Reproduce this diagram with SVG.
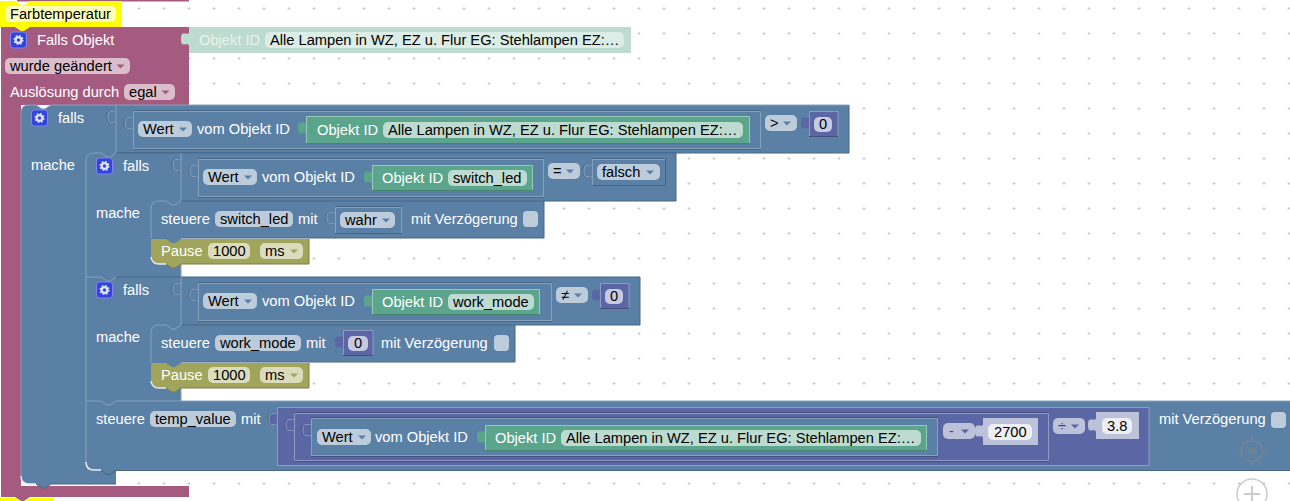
<svg xmlns="http://www.w3.org/2000/svg" width="1290" height="501" viewBox="0 0 1290 501">
<style>
text{font-family:"Liberation Sans",Arial,sans-serif;font-size:14.67px}
.w{fill:#fff}
.k{fill:#000}
.blue{fill:#5b80a5}
.pink{fill:#a55b80}
.grn{fill:#5ba58c}
.oli{fill:#a0a55b}
.pur{fill:#5b67a5}
.hl,.sd,.hw,.gl,.gd,.vl,.vd{fill:none;stroke-width:1}
.hl{stroke:#86a1bc}
.sd{stroke:#486684}
.hw{stroke:#e4ebf2;stroke-width:1.5}
.gl{stroke:#98c8b6}
.gd{stroke:#48846f}
.vl{stroke:#9298c6}
.vd{stroke:#474f80}
.fb{fill:#bdccdb}
.fp{fill:#dbbdcc}
.fg{fill:#bddbd1}
.fo{fill:#dbdbbd}
.fv{fill:#bdc2db}
.fe{fill:#eeeef4}
</style>
<defs>
<pattern id="grid" x="0" y="0" width="25" height="25" patternUnits="userSpaceOnUse">
<path d="M12.5,8.5H15.5M14,7V10" stroke="#ccc" stroke-width="1" fill="none"/>
</pattern>
<path id="tab" d="M0,0C0,2.500 -2,1.500 -5,1.500C-7.500,1.500 -8,3.500 -8,7C-8,10.500 -7.500,12.500 -5,12.500C-2,12.500 0,11.500 0,15z"/>
<path id="tabl" d="M0,0C0,2.500 -2,1.500 -5,1.500C-7.500,1.500 -8,3.500 -8,7C-8,10.500 -7.500,12.500 -5,12.500C-2,12.500 0,11.500 0,15" fill="none"/>
<g id="tabb">
<use href="#tabl" x="-1" y="0" stroke="#486684"/>
<use href="#tabl" stroke="#86a1bc"/>
</g>
<g id="tabv">
<use href="#tabl" x="-1" y="0" stroke="#474f80"/>
<use href="#tabl" stroke="#9298c6"/>
</g>
<path id="arr" d="M0,0H8L4,4z"/>
<g id="gear">
<rect x="0.5" y="0.5" width="16" height="16" rx="3" fill="#3344dd" stroke="#7f86ee"/>
<circle cx="8.5" cy="8.5" r="2.8" fill="none" stroke="#dfe3fa" stroke-width="2.2"/>
<circle cx="8.5" cy="8.5" r="4.4" fill="none" stroke="#dfe3fa" stroke-width="1.3" stroke-dasharray="1.8 1.65"/>
</g>
</defs>
<rect width="1290" height="501" fill="#fff"/>
<rect width="1290" height="501" fill="url(#grid)"/>

<g id="hat-top"><rect x="17" y="0" width="172" height="1.5" class="pink"/></g>

<g id="trigger">
<path class="pink" d="M1,27H189V105H21V486H189V497H30l-6,4h-3l-6,-4H1Z"/>
<use href="#gear" x="10" y="31.500"/>
<text class="w" x="37" y="45">Falls Objekt</text>
<rect class="fp" x="5" y="58" width="125" height="16" rx="5"/>
<text class="k" x="10" y="71">wurde geändert</text>
<use href="#arr" x="116.500" y="64.500" fill="#a55b80"/>
<text class="w" x="10" y="97">Auslösung durch</text>
<rect class="fp" x="124" y="84" width="51" height="16" rx="5"/>
<text class="k" x="129" y="97">egal</text>
<use href="#arr" x="161.500" y="90.500" fill="#a55b80"/>
</g>

<g id="comment">
<path d="M0,1H15l6,4h3l6,-4H122V27H30l-6,4h-3l-6,-4H0Z" fill="#ffff00"/>
<rect x="5" y="6" width="111" height="16" rx="5" fill="#ffffb8"/>
<text class="k" x="10" y="19">Farbtemperatur</text>
</g>
<g id="comment-bottom"><path d="M0,498H15l6,3h3l6,-3H53V501H0Z" fill="#ffff00"/></g>

<g id="object-id-top">
<use href="#tab" x="189" y="32" fill="#bddbd1"/>
<rect x="189" y="27" width="442" height="26" fill="#bddbd1"/>
<text x="199" y="45" fill="#e9f3ef">Objekt ID</text>
<rect x="265" y="32" width="359" height="16" rx="5" fill="#dcece6"/>
<text class="k" x="270" y="45">Alle Lampen in WZ, EZ u. Flur EG: Stehlampen EZ:…</text>
</g>

<g id="if-outer">
<path class="blue" d="M21,113Q21,105 29,105H36l6,4h3l6,-4H849V153H116V484H51l-6,4h-3l-6,-4H29Q21,484 21,476Z"/>
<path class="sd" d="M849,105V153H116M116,484H51l-6,4h-3l-6,-4"/>
<path class="hl" d="M21,476V113Q21,105 29,105H36l6,4h3l6,-4H849"/>
<path class="hw" d="M21,476Q21,484 29,484H36"/>
<use href="#gear" x="31" y="109.500"/>
<text class="w" x="58" y="123">falls</text>
<text class="w" x="31" y="170">mache</text>
<path class="hl" d="M116,105V153"/>
<use href="#tabb" x="116" y="110"/>
<g id="value-1">
<use href="#tabb" x="133" y="116"/>
<path class="sd" d="M133,110.500H761M133,149.500H761"/>
<path class="hl" d="M133.500,148.500V111.500H760.500V148.500H133.500"/>
<rect class="fb" x="138" y="121" width="54" height="16" rx="5"/>
<text class="k" x="143" y="134">Wert</text>
<use href="#arr" x="179" y="127.500" fill="#5b80a5"/>
<text class="w" x="197" y="134">vom Objekt ID</text>
<use href="#tab" x="306" y="121" class="grn"/>
<rect class="grn" x="306" y="116" width="444" height="28"/>
<path class="gl" d="M306.500,143V116.500H749.500V143"/>
<path class="gd" d="M306,143.500H750"/>
<text class="w" x="317" y="135">Objekt ID</text>
<rect class="fg" x="383" y="122" width="360" height="16" rx="5"/>
<text class="k" x="388" y="135">Alle Lampen in WZ, EZ u. Flur EG: Stehlampen EZ:…</text>
</g>
<rect class="fb" x="765" y="115" width="32" height="16" rx="5"/>
<text class="k" x="770" y="128">&gt;</text>
<use href="#arr" x="783" y="121.500" fill="#5b80a5"/>
<g id="num-1">
<use href="#tab" x="809" y="116" class="pur"/>
<rect class="pur" x="809" y="111" width="29" height="26"/>
<path class="vl" d="M809.500,137V111.500H838V137"/>
<path class="vd" d="M809,136.500H838"/>
<rect x="814" y="117" width="18" height="15" rx="5" fill="#c6c9e2"/>
<text class="k" x="819" y="129">0</text>
</g>
</g>

<g id="if-a">
<path class="blue" d="M86,161Q86,153 94,153H101l6,4h3l6,-4H676V201H181V277H86Z"/>
<path class="sd" d="M116,153H676V201H544"/>
<path class="hl" d="M86,277V161Q86,153 94,153H101l6,4h3l6,-4M181,153V201M181,264V277"/>
<use href="#gear" x="96" y="157.500"/>
<text class="w" x="123" y="171">falls</text>
<text class="w" x="96" y="218">mache</text>
<use href="#tabb" x="181" y="158"/>
<g id="value-2">
<use href="#tabb" x="198" y="164"/>
<path class="sd" d="M198,158.500H544M198,197.500H544"/>
<path class="hl" d="M198.500,196.500V159.500H543.500V196.500H198.500"/>
<rect class="fb" x="203" y="169" width="54" height="16" rx="5"/>
<text class="k" x="208" y="182">Wert</text>
<use href="#arr" x="244" y="175.500" fill="#5b80a5"/>
<text class="w" x="262" y="182">vom Objekt ID</text>
<use href="#tab" x="372" y="170" class="grn"/>
<rect class="grn" x="372" y="165" width="161" height="26"/>
<path class="gl" d="M372.500,190V165.500H532.500V190"/>
<path class="gd" d="M372,190.500H533"/>
<text class="w" x="382" y="183">Objekt ID</text>
<rect class="fg" x="448" y="170" width="79" height="16" rx="5"/>
<text class="k" x="453" y="183">switch_led</text>
</g>
<rect class="fb" x="548" y="163" width="32" height="16" rx="5"/>
<text class="k" x="553" y="176">=</text>
<use href="#arr" x="566" y="169.500" fill="#5b80a5"/>
<g id="bool-falsch">
<use href="#tabb" x="592" y="164"/>
<path class="hl" d="M592.500,185V159.500H665"/>
<path class="sd" d="M592,158.500H665.500V185.500H592"/>
<rect class="fb" x="597" y="164" width="63" height="16" rx="5"/>
<text class="k" x="602" y="177">falsch</text>
<use href="#arr" x="646" y="170.500" fill="#5b80a5"/>
</g>
</g>

<g id="set-switch">
<path class="blue" d="M151,209Q151,201 159,201H166l6,4h3l6,-4H544V238H151Z"/>
<path class="hl" d="M151,238V209Q151,201 159,201H166l6,4h3l6,-4"/>
<path class="sd" d="M181,201H544V238H181"/>
<text class="w" x="161" y="224">steuere</text>
<rect class="fb" x="215" y="211" width="78" height="16" rx="5"/>
<text class="k" x="220" y="224">switch_led</text>
<text class="w" x="298" y="224">mit</text>
<g id="bool-wahr">
<use href="#tabb" x="335" y="211"/>
<path class="hl" d="M335.500,233V207.500H401.500V233"/>
<path class="sd" d="M335,206.500H402M335,233.500H402"/>
<rect class="fb" x="340" y="212" width="55" height="16" rx="5"/>
<text class="k" x="345" y="225">wahr</text>
<use href="#arr" x="382" y="218.500" fill="#5b80a5"/>
</g>
<text class="w" x="411" y="224">mit Verzögerung</text>
<rect class="fb" x="523" y="211" width="15" height="16" rx="4"/>
</g>

<g id="pause-1">
<path class="oli" d="M151,239H166l6,4h3l6,-4H309V264H181l-6,4h-3l-6,-4H159Q151,264 151,256Z"/>
<path class="hw" d="M151,257Q152,264 159,264H166"/>
<path d="M309,239V264H181l-6,4h-3l-6,-4" fill="none" stroke="#7c7c45"/>
<text class="w" x="161" y="256">Pause</text>
<rect class="fo" x="208" y="243" width="42" height="16" rx="5"/>
<text class="k" x="213" y="256">1000</text>
<rect class="fo" x="260" y="243" width="43" height="16" rx="5"/>
<text class="k" x="265" y="256">ms</text>
<use href="#arr" x="290" y="249.500" fill="#a0a55b"/>
</g>

<g id="if-b">
<path class="blue" d="M86,277H101l6,4h3l6,-4H640V325H181V401H86Z"/>
<path class="sd" d="M116,277H640V325H515"/>
<path class="hl" d="M86,401V277H101l6,4h3l6,-4M181,277V325M181,388V401"/>
<use href="#gear" x="96" y="281.500"/>
<text class="w" x="123" y="295">falls</text>
<text class="w" x="96" y="342">mache</text>
<use href="#tabb" x="181" y="282"/>
<g id="value-3">
<use href="#tabb" x="198" y="288"/>
<path class="sd" d="M198,282.500H552M198,321.500H552"/>
<path class="hl" d="M198.500,320.500V283.500H551.500V320.500H198.500"/>
<rect class="fb" x="203" y="293" width="54" height="16" rx="5"/>
<text class="k" x="208" y="306">Wert</text>
<use href="#arr" x="244" y="299.500" fill="#5b80a5"/>
<text class="w" x="262" y="306">vom Objekt ID</text>
<use href="#tab" x="372" y="294" class="grn"/>
<rect class="grn" x="372" y="289" width="168" height="26"/>
<path class="gl" d="M372.500,314V289.500H539.500V314"/>
<path class="gd" d="M372,314.500H540"/>
<text class="w" x="382" y="307">Objekt ID</text>
<rect class="fg" x="448" y="294" width="86" height="16" rx="5"/>
<text class="k" x="453" y="307">work_mode</text>
</g>
<rect class="fb" x="556" y="287" width="32" height="16" rx="5"/>
<text class="k" x="561" y="300">≠</text>
<use href="#arr" x="574" y="293.500" fill="#5b80a5"/>
<g id="num-2">
<use href="#tab" x="600" y="288" class="pur"/>
<rect class="pur" x="600" y="283" width="29" height="26"/>
<path class="vl" d="M600.500,309V283.500H629V309"/>
<path class="vd" d="M600,308.500H629"/>
<rect x="605" y="289" width="18" height="15" rx="5" fill="#c6c9e2"/>
<text class="k" x="610" y="301">0</text>
</g>
</g>

<g id="set-work">
<path class="blue" d="M151,333Q151,325 159,325H166l6,4h3l6,-4H515V362H151Z"/>
<path class="hl" d="M151,362V333Q151,325 159,325H166l6,4h3l6,-4"/>
<path class="sd" d="M181,325H515V362H181"/>
<text class="w" x="161" y="348">steuere</text>
<rect class="fb" x="215" y="335" width="86" height="16" rx="5"/>
<text class="k" x="220" y="348">work_mode</text>
<text class="w" x="306" y="348">mit</text>
<g id="num-3">
<use href="#tab" x="343" y="335" class="pur"/>
<rect class="pur" x="343" y="330" width="30" height="26"/>
<path class="vl" d="M343.500,356V330.500H373V356"/>
<path class="vd" d="M343,355.500H373"/>
<rect x="348" y="336" width="20" height="15" rx="5" fill="#c6c9e2"/>
<text class="k" x="354" y="348">0</text>
</g>
<text class="w" x="381" y="348">mit Verzögerung</text>
<rect class="fb" x="494" y="335" width="15" height="16" rx="4"/>
</g>

<g id="pause-2">
<path class="oli" d="M151,363H166l6,4h3l6,-4H309V388H181l-6,4h-3l-6,-4H159Q151,388 151,380Z"/>
<path class="hw" d="M151,381Q152,388 159,388H166"/>
<path d="M309,363V388H181l-6,4h-3l-6,-4" fill="none" stroke="#7c7c45"/>
<text class="w" x="161" y="380">Pause</text>
<rect class="fo" x="208" y="367" width="42" height="16" rx="5"/>
<text class="k" x="213" y="380">1000</text>
<rect class="fo" x="260" y="367" width="43" height="16" rx="5"/>
<text class="k" x="265" y="380">ms</text>
<use href="#arr" x="290" y="373.500" fill="#a0a55b"/>
</g>

<g id="set-temp">
<path class="blue" d="M86,401H101l6,4h3l6,-4H1290V470H116l-6,4h-3l-6,-4H94Q86,470 86,462Z"/>
<path class="hl" d="M86,462V401H101l6,4h3l6,-4H1290"/>
<path class="sd" d="M1290,470.500H116l-6,4h-3l-6,-4"/>
<path class="hw" d="M86,462Q86,470 94,470H101"/>
<text class="w" x="96" y="424">steuere</text>
<rect class="fb" x="150" y="411" width="86" height="16" rx="5"/>
<text class="k" x="155" y="424">temp_value</text>
<text class="w" x="241" y="424">mit</text>
<g id="math-outer">
<use href="#tab" x="277" y="412" class="pur"/>
<rect class="pur" x="277" y="407" width="872" height="59"/>
<use href="#tabb" x="277" y="412"/>
<path class="vl" d="M277.500,465.500V407.500H1149V465.500H277.500"/>
<g id="math-inner">
<use href="#tabv" x="294" y="418"/>
<path class="vd" d="M294,412.500H1048.500M294,461.500H1048.500"/>
<path class="vl" d="M294.500,460.500V413.500H1048.500V460.500H294.500"/>
<g id="value-4">
<rect class="blue" x="311" y="418" width="627" height="38"/>
<use href="#tabv" x="311" y="423"/>
<path class="vd" d="M311,417.500H938M311,456.500H938"/>
<path class="hl" d="M311.500,455.500V418.500H937.500V455.500H311.500"/>
<rect class="fb" x="317" y="429" width="54" height="16" rx="5"/>
<text class="k" x="322" y="442">Wert</text>
<use href="#arr" x="358" y="435.500" fill="#5b80a5"/>
<text class="w" x="375" y="442">vom Objekt ID</text>
<use href="#tab" x="485" y="430" class="grn"/>
<rect class="grn" x="485" y="425" width="442" height="26"/>
<path class="gl" d="M485.500,450V425.500H926.500V450"/>
<path class="gd" d="M485,450.500H927"/>
<text class="w" x="495" y="443">Objekt ID</text>
<rect class="fg" x="561" y="430" width="360" height="16" rx="5"/>
<text class="k" x="566" y="443">Alle Lampen in WZ, EZ u. Flur EG: Stehlampen EZ:…</text>
</g>
<rect class="fv" x="943" y="423" width="32" height="16" rx="5"/>
<text x="949" y="436" fill="#3f4670">-</text>
<use href="#arr" x="961" y="429.500" fill="#5b67a5"/>
<g id="num-2700">
<use href="#tab" x="983" y="424" class="fv"/>
<rect class="fv" x="983" y="418" width="55" height="27"/>
<rect class="fe" x="988" y="424" width="44" height="16" rx="5"/>
<text class="k" x="994" y="437">2700</text>
</g>
</g>
<rect class="fv" x="1053" y="418" width="32" height="16" rx="5"/>
<text x="1058" y="431" fill="#3f4670">÷</text>
<use href="#arr" x="1071" y="424.500" fill="#5b67a5"/>
<g id="num-38">
<use href="#tab" x="1096" y="418" class="fv"/>
<rect class="fv" x="1096" y="412" width="43" height="27"/>
<rect class="fe" x="1102" y="418" width="30" height="16" rx="5"/>
<text class="k" x="1107" y="431">3.8</text>
</g>
</g>
<text class="w" x="1159" y="424">mit Verzögerung</text>
<rect class="fb" x="1271" y="412" width="15" height="16" rx="4"/>
</g>

<g id="controls" fill="none" stroke="#888" opacity="0.45">
<circle cx="1252" cy="451" r="10.500" stroke-width="2"/>
<circle cx="1252" cy="451" r="4" fill="#888" stroke="none"/>
<path d="M1252,436V441M1252,461V466M1237,451H1242M1262,451H1267" stroke-width="2"/>
</g>
<g id="zoom-in" fill="none" stroke="#ccc">
<circle cx="1252" cy="494" r="15" stroke-width="1.500"/>
<path d="M1252,486V501M1244,494H1260" stroke-width="2"/>
</g>
</svg>
